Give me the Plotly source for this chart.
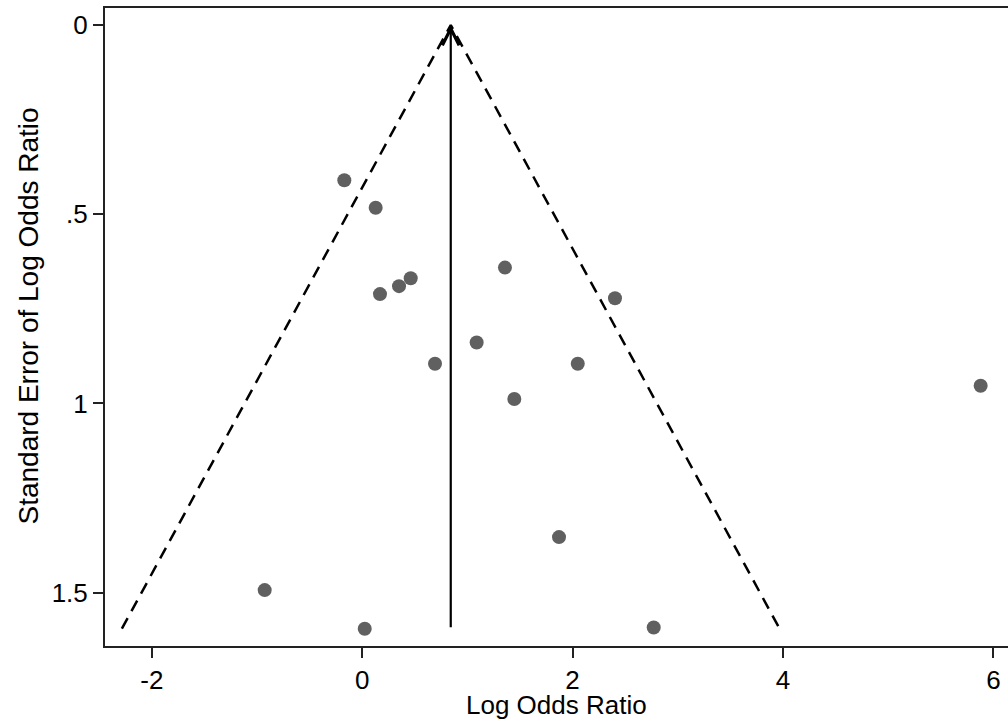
import plotly.graph_objects as go

# Study data
log_or = [-0.170, 0.128, 0.169, 0.350, 0.461, 1.357, 2.403, 1.088,
          0.692, 2.049, 1.446, 5.879, 1.871, -0.927, 0.024, 2.771]
se_log_or = [0.410, 0.483, 0.711, 0.690, 0.669, 0.641, 0.722, 0.839,
             0.895, 0.895, 0.988, 0.953, 1.353, 1.493, 1.595, 1.592]

x_ticks = [-2, 0, 2, 4, 6]
x_tick_labels = ["-2", "0", "2", "4", "6"]
y_ticks = [0, 0.5, 1, 1.5]
y_tick_labels = ["0", ".5", "1", "1.5"]
x_title = "Log Odds Ratio"
y_title = "Standard Error of Log Odds Ratio"

# Fixed-effect pooled estimate and funnel limits
weights = [1 / s ** 2 for s in se_log_or]
theta = sum(w * x for w, x in zip(weights, log_or)) / sum(weights)
max_se = max(se_log_or)

font_family = "Liberation Sans, Arial, Helvetica, sans-serif"

fig = go.Figure()

# Pseudo 95% confidence limits (dashed funnel)
fig.add_trace(go.Scatter(
    x=[theta - 1.96 * max_se, theta, theta + 1.96 * max_se],
    y=[max_se, 0, max_se],
    mode="lines",
    line=dict(color="black", width=2.5, dash="12px,8px"),
    hoverinfo="skip",
    showlegend=False,
))

# Study points
fig.add_trace(go.Scatter(
    x=log_or,
    y=se_log_or,
    mode="markers",
    marker=dict(color="#606060", size=14, line=dict(width=0)),
    showlegend=False,
))

# Pooled estimate line with open arrowhead
fig.add_annotation(
    x=theta, y=0, ax=theta, ay=max_se,
    xref="x", yref="y", axref="x", ayref="y",
    text="", showarrow=True,
    arrowhead=5, arrowsize=1.5, arrowwidth=2.2, arrowcolor="black",
)

# X-axis title
fig.add_annotation(
    x=0.5, xref="paper", y=(646 - 705) / 638, yref="paper",
    xanchor="center", yanchor="middle",
    text=x_title, showarrow=False,
    font=dict(family=font_family, size=26, color="black"),
)

# Y-axis title
fig.add_annotation(
    x=(28 - 105) / 903, xref="paper", y=(646 - 316.5) / 638, yref="paper",
    xanchor="center", yanchor="middle", textangle=-90,
    text=y_title, showarrow=False,
    font=dict(family=font_family, size=28, color="black"),
)

fig.update_layout(
    width=1008,
    height=726,
    margin=dict(l=105, r=0, t=8, b=80),
    paper_bgcolor="white",
    plot_bgcolor="white",
    font=dict(family=font_family, size=26, color="black"),
    showlegend=False,
)

fig.update_xaxes(
    range=[-2.445, 6.139],
    tickvals=x_ticks,
    ticktext=x_tick_labels,
    ticks="outside",
    ticklen=10,
    tickwidth=2,
    tickcolor="#222",
    showline=True,
    linecolor="#222",
    linewidth=2,
    mirror=True,
    showgrid=False,
    zeroline=False,
    tickfont=dict(size=26),
)

fig.update_yaxes(
    range=[1.6407, -0.0449],
    tickvals=y_ticks,
    ticktext=y_tick_labels,
    ticks="outside",
    ticklen=10,
    tickwidth=2,
    tickcolor="#222",
    showline=True,
    linecolor="#222",
    linewidth=2,
    mirror=False,
    showgrid=False,
    zeroline=False,
    tickfont=dict(size=26),
    ticklabelstandoff=0,
)

fig.write_html("out.html", config={"displayModeBar": False},
               post_script="document.body.style.margin='0';")
